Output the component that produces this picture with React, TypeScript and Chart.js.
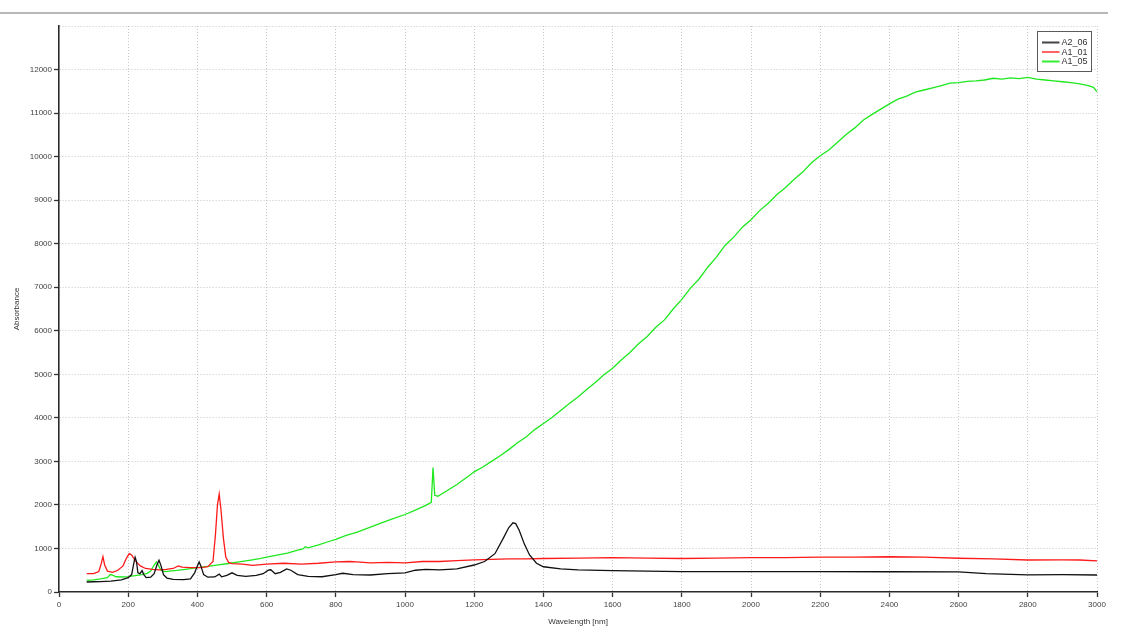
import { useEffect, useRef } from 'react';
import { Chart, registerables } from 'chart.js';

Chart.register(...registerables);

// ---- Spectra: wavelength [nm] / absorbance pairs ----
const a206Wl = [80, 100, 120, 150, 180, 200, 210, 216, 220, 224, 228, 234, 240, 245, 252, 265, 275, 283, 289, 295, 302, 312, 330, 360, 380, 392, 400, 405, 410, 418, 430, 450, 463, 470, 485, 500, 515, 540, 570, 590, 605, 612, 625, 640, 658, 670, 690, 720, 760, 800, 820, 850, 900, 950, 1000, 1030, 1060, 1100, 1150, 1200, 1230, 1260, 1285, 1300, 1312, 1320, 1330, 1345, 1360, 1380, 1400, 1450, 1500, 1600, 1700, 1800, 1900, 2000, 2200, 2400, 2600, 2680, 2800, 2900, 3000];
const a206Abs = [230, 235, 240, 250, 280, 330, 400, 650, 800, 700, 440, 420, 490, 400, 330, 340, 420, 620, 730, 600, 400, 320, 290, 285, 300, 440, 600, 690, 600, 400, 340, 345, 410, 350, 380, 440, 380, 360, 380, 420, 500, 510, 420, 450, 530, 500, 400, 360, 350, 400, 430, 400, 390, 420, 440, 500, 520, 510, 530, 620, 700, 880, 1250, 1480, 1590, 1570, 1420, 1100, 850, 660, 580, 530, 510, 490, 480, 470, 470, 470, 470, 465, 460, 420, 395, 400, 390];

const a101Wl = [80, 100, 115, 122, 127, 132, 140, 155, 170, 185, 195, 203, 210, 220, 235, 250, 270, 290, 310, 330, 345, 355, 380, 410, 430, 445, 452, 458, 463, 468, 475, 482, 490, 500, 530, 560, 600, 650, 700, 750, 800, 840, 860, 900, 950, 1000, 1050, 1100, 1150, 1200, 1250, 1300, 1350, 1400, 1500, 1600, 1700, 1800, 1900, 2000, 2100, 2200, 2300, 2400, 2500, 2600, 2700, 2800, 2900, 2950, 3000];
const a101Abs = [420, 420, 470, 650, 810, 620, 480, 450, 500, 600, 780, 880, 850, 720, 600, 540, 520, 510, 520, 540, 600, 570, 560, 560, 580, 700, 1300, 2000, 2250, 1900, 1250, 800, 680, 650, 640, 610, 640, 660, 640, 660, 690, 700, 690, 670, 680, 670, 700, 700, 720, 740, 750, 760, 760, 770, 780, 790, 780, 770, 780, 790, 790, 800, 800, 810, 800, 775, 760, 735, 740, 735, 715];

const a105Wl = [80, 100, 120, 140, 148, 155, 165, 180, 200, 220, 240, 255, 265, 275, 282, 288, 295, 305, 320, 340, 360, 380, 400, 430, 460, 490, 520, 550, 580, 600, 630, 660, 690, 705, 712, 720, 750, 780, 800, 830, 860, 900, 930, 960, 1000, 1030, 1060, 1076, 1081, 1086, 1095, 1120, 1150, 1180, 1200, 1225, 1250, 1275, 1300, 1325, 1350, 1375, 1400, 1425, 1450, 1475, 1500, 1525, 1550, 1575, 1600, 1625, 1650, 1675, 1700, 1725, 1750, 1775, 1800, 1825, 1850, 1875, 1900, 1925, 1950, 1975, 2000, 2025, 2050, 2075, 2100, 2125, 2150, 2175, 2200, 2225, 2250, 2275, 2300, 2325, 2350, 2375, 2400, 2425, 2450, 2475, 2500, 2525, 2550, 2575, 2600, 2625, 2650, 2675, 2700, 2725, 2750, 2775, 2800, 2825, 2850, 2875, 2900, 2925, 2950, 2975, 2990, 3000];
const a105Abs = [265, 280, 300, 330, 400, 385, 350, 345, 355, 375, 400, 430, 480, 620, 690, 600, 500, 470, 480, 495, 515, 535, 560, 590, 625, 655, 690, 725, 765, 800, 845, 895, 960, 990, 1040, 1015, 1080, 1160, 1210, 1300, 1370, 1490, 1580, 1670, 1780, 1880, 1990, 2060, 2860, 2220, 2200, 2320, 2470, 2640, 2760, 2870, 3000, 3130, 3270, 3430, 3560, 3730, 3870, 4010, 4170, 4330, 4480, 4650, 4810, 4990, 5140, 5330, 5500, 5700, 5870, 6080, 6250, 6500, 6720, 6980, 7190, 7460, 7690, 7960, 8150, 8380, 8550, 8760, 8930, 9130, 9290, 9480, 9650, 9860, 10020, 10150, 10330, 10510, 10660, 10840, 10970, 11090, 11210, 11320, 11390, 11480, 11530, 11580, 11630, 11690, 11700, 11730, 11740, 11760, 11800, 11780, 11810, 11790, 11820, 11780, 11760, 11740, 11720, 11700, 11670, 11630, 11590, 11490];

const seriesNames = ['A2_06', 'A1_01', 'A1_05'];
const lineColors = ['#111111', '#ff1a1a', '#1ee81e'];
const legendColors = ['#444444', '#ff6464', '#33ee33'];

const xTickStep = 200;
const yTickStep = 1000;
const xMax = 3000;
const yMax = 13000;

const FONT = "'Liberation Sans', Arial, sans-serif";

const toPoints = (xs: number[], ys: number[]) => xs.map((x, i) => ({ x, y: ys[i] }));

// Boxed legend in the top-right corner of the plot plus the grey rule above it
const framePlugin = {
  id: 'frameAndLegend',
  beforeDraw(chart: any) {
    const { ctx } = chart;
    ctx.save();
    ctx.fillStyle = '#b8b8b8';
    ctx.fillRect(0, 12, 1108, 2);
    ctx.restore();
  },
  afterDraw(chart: any) {
    const { ctx, chartArea } = chart;
    const bx = chartArea.right - 59.5;
    const by = chartArea.top + 5.5;
    const bw = 54;
    const bh = 40;
    ctx.save();
    ctx.fillStyle = '#ffffff';
    ctx.fillRect(bx, by, bw, bh);
    ctx.strokeStyle = '#5a5a5a';
    ctx.lineWidth = 1;
    ctx.strokeRect(bx, by, bw, bh);
    ctx.font = `9px ${FONT}`;
    ctx.textBaseline = 'middle';
    ctx.textAlign = 'left';
    seriesNames.forEach((name, i) => {
      const y = by + 11 + i * 9.5;
      ctx.strokeStyle = legendColors[i];
      ctx.lineWidth = 2;
      ctx.beginPath();
      ctx.moveTo(bx + 4.5, y);
      ctx.lineTo(bx + 22, y);
      ctx.stroke();
      ctx.fillStyle = '#333333';
      ctx.fillText(name, bx + 24, y + 0.5);
    });
    ctx.restore();
  },
};

export default function App() {
  const canvasRef = useRef<HTMLCanvasElement | null>(null);

  useEffect(() => {
    if (!canvasRef.current) return;
    const datasets = [
      toPoints(a206Wl, a206Abs),
      toPoints(a101Wl, a101Abs),
      toPoints(a105Wl, a105Abs),
    ].map((data, i) => ({
      label: seriesNames[i],
      data,
      borderColor: lineColors[i],
      backgroundColor: lineColors[i],
      borderWidth: 1.3,
      pointRadius: 0,
      tension: 0,
      fill: false,
    }));

    const gridColor = (c: any) => (c.tick && c.tick.value === 0 ? 'rgba(0,0,0,0)' : '#c6c6c6');

    const chart = new Chart(canvasRef.current, {
      type: 'line',
      data: { datasets },
      plugins: [framePlugin],
      options: {
        responsive: false,
        animation: false,
        layout: { padding: { top: 26, right: 26, bottom: 0, left: 0 } },
        plugins: {
          legend: { display: false },
          tooltip: { enabled: false },
        },
        scales: {
          x: {
            type: 'linear',
            min: 0,
            max: xMax,
            ticks: {
              stepSize: xTickStep,
              autoSkip: false,
              maxRotation: 0,
              padding: 3,
              color: '#444444',
              font: { family: FONT, size: 8 },
              callback: (v: any) => String(v),
            },
            grid: {
              color: gridColor,
              lineWidth: 1,
              tickLength: 5,
              tickColor: '#333333',
              tickWidth: 1.3,
            },
            border: { display: true, color: '#2a2a2a', width: 1.6, dash: [1, 2] },
            title: {
              display: true,
              text: 'Wavelength [nm]',
              color: '#333333',
              font: { family: FONT, size: 8 },
              padding: { top: 0, bottom: 4 },
            },
            afterFit: (s: any) => {
              s.height = 39;
              s.paddingLeft = 0;
              s.paddingRight = 0;
            },
          },
          y: {
            type: 'linear',
            min: 0,
            max: yMax,
            ticks: {
              stepSize: yTickStep,
              autoSkip: false,
              padding: 2,
              color: '#444444',
              font: { family: FONT, size: 8 },
              callback: (v: any) => (v === yMax ? '' : String(v)),
            },
            grid: {
              color: gridColor,
              lineWidth: 1,
              tickLength: 5,
              tickColor: (c: any) => (c.tick && c.tick.value === yMax ? 'rgba(0,0,0,0)' : '#333333'),
              tickWidth: 1.3,
            },
            border: { display: true, color: '#2a2a2a', width: 1.6, dash: [1, 2] },
            title: {
              display: true,
              text: 'Absorbance',
              color: '#333333',
              font: { family: FONT, size: 8 },
              padding: { top: 12, bottom: 0 },
            },
            afterFit: (s: any) => {
              s.width = 59;
              s.paddingTop = 0;
              s.paddingBottom = 0;
            },
          },
        },
      },
    });

    return () => chart.destroy();
  }, []);

  return (
    <div style={{ position: 'absolute', left: 0, top: 0, width: 1123, height: 631, background: '#ffffff' }}>
      <canvas ref={canvasRef} width={1123} height={631} style={{ display: 'block' }} />
    </div>
  );
}
